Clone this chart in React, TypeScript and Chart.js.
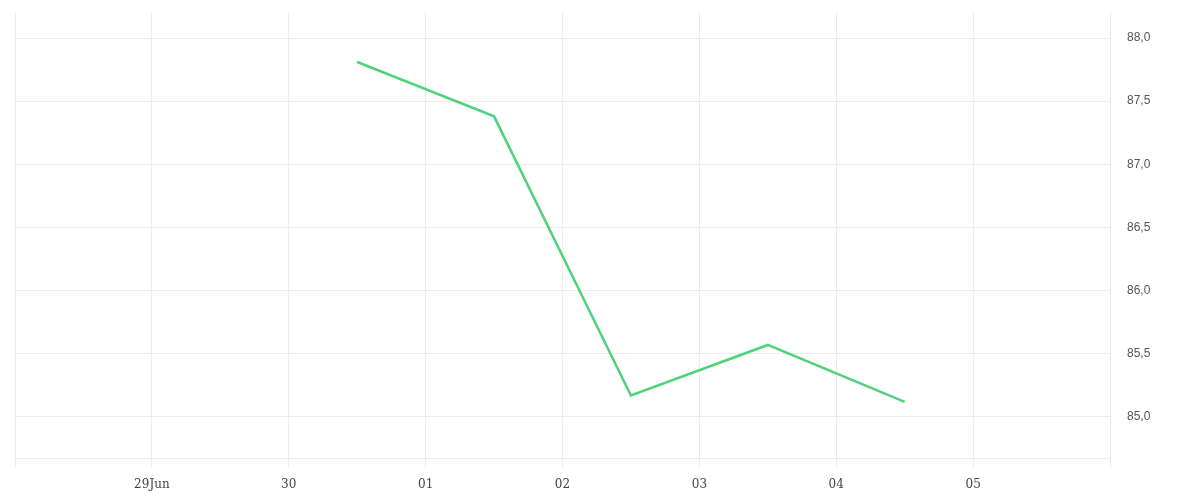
import { Chart, registerables } from 'chart.js'
import { useEffect, useRef } from 'react'

Chart.register(...registerables)

// x = days since 28 Jun (gridline per day)
const tickLabels = ['', '29Jun', '30', '01', '02', '03', '04', '05', '']
const pointDays = [2.5, 3.5, 4.5, 5.5, 6.5]
const values = [87.81, 87.38, 85.17, 85.57, 85.12]
const yTicks = [85.0, 85.5, 86.0, 86.5, 87.0, 87.5, 88.0]

export default function App() {
  const chartRef = useRef<HTMLCanvasElement>(null)
  const chartInstance = useRef<Chart | null>(null)

  useEffect(() => {
    if (!chartRef.current) return
    if (chartInstance.current) chartInstance.current.destroy()
    const ctx = chartRef.current.getContext('2d')
    if (!ctx) return

    const gridColor = '#ececec'

    chartInstance.current = new Chart(ctx, {
      type: 'line',
      data: {
        datasets: [
          {
            label: 'value',
            data: pointDays.map((d, i) => ({ x: d, y: values[i] })),
            borderColor: '#4fd27b',
            borderWidth: 2.5,
            pointRadius: 0,
            tension: 0,
            fill: false,
          },
        ],
      },
      options: {
        animation: false,
        responsive: false,
        maintainAspectRatio: false,
        layout: { padding: { left: 15, top: 12, right: 0, bottom: 0 } },
        plugins: {
          legend: { display: false },
          tooltip: { enabled: false },
        },
        scales: {
          x: {
            type: 'linear',
            min: 0,
            max: tickLabels.length - 1,
            afterBuildTicks: (scale: any) => {
              scale.ticks = tickLabels.map((_, i) => ({ value: i }))
            },
            afterFit: (scale: any) => {
              scale.height = 42
              scale.paddingLeft = 0
              scale.paddingRight = 0
            },
            grid: { color: gridColor, tickLength: 10, tickColor: gridColor },
            border: { color: gridColor },
            ticks: {
              autoSkip: false,
              maxRotation: 0,
              padding: 10,
              color: '#444',
              font: { family: 'DejaVu Serif', size: 12 },
              callback: (v: any) => tickLabels[Math.round(Number(v))] ?? '',
            },
          },
          y: {
            position: 'right',
            min: 84.675,
            max: 88.206,
            afterBuildTicks: (scale: any) => {
              scale.ticks = yTicks.map((v) => ({ value: v }))
            },
            afterFit: (scale: any) => {
              scale.width = 90
              scale.paddingTop = 0
              scale.paddingBottom = 0
            },
            grid: { color: gridColor, drawTicks: false },
            border: { color: gridColor },
            ticks: {
              padding: 17,
              color: '#555',
              font: { family: 'Liberation Sans', size: 12 },
              callback: (v: any) => Number(v).toFixed(1).replace('.', ','),
            },
          },
        },
      },
    })

    return () => {
      if (chartInstance.current) chartInstance.current.destroy()
    }
  }, [])

  return (
    <div style={{ position: 'fixed', left: 0, top: 0, width: 1200, height: 500, background: '#fff' }}>
      <canvas ref={chartRef} width={1200} height={500} style={{ width: 1200, height: 500 }}></canvas>
    </div>
  )
}
